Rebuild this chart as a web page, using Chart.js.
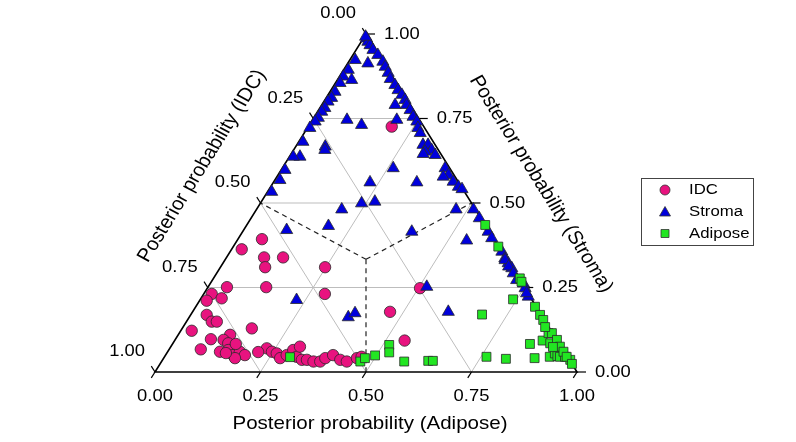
<!DOCTYPE html>
<html>
<head>
<meta charset="utf-8">
<script src="https://cdn.jsdelivr.net/npm/chart.js@4.4.1/dist/chart.umd.min.js"></script>
<style>
html,body{margin:0;padding:0;background:#fff;}
canvas{display:block;}
</style>
</head>
<body>
<canvas id="c" width="796" height="442"></canvas>
<script>
// Ternary data: each point is [Adipose, Stroma]; IDC = 1 - Adipose - Stroma
const categories = ['IDC', 'Stroma', 'Adipose'];
const tickValues = [0, 0.25, 0.5, 0.75, 1];
const tickLabels = ['0.00', '0.25', '0.50', '0.75', '1.00'];
const axisTitles = ['Posterior probability (IDC)', 'Posterior probability (Stroma)', 'Posterior probability (Adipose)'];

const idcPoints = [
  [0.198,0.726],
  [0.057,0.393],[0.024,0.363],[0.089,0.339],[0.134,0.339],[0.106,0.310],[0.248,0.310],
  [0.045,0.251],[0.138,0.251],[0.287,0.231],[0.019,0.231],[0.049,0.218],[0.017,0.211],
  [0.038,0.169],[0.060,0.149],[0.072,0.149],[0.026,0.122],[0.165,0.129],[0.084,0.097],
  [0.123,0.110],[0.115,0.095],[0.131,0.085],[0.075,0.067],[0.124,0.060],[0.141,0.065],
  [0.160,0.050],[0.171,0.060],[0.188,0.050],[0.169,0.041],[0.150,0.083],[0.140,0.056],
  [0.230,0.070],[0.215,0.059],[0.247,0.060],[0.261,0.055],[0.276,0.041],[0.287,0.050],
  [0.295,0.065],[0.313,0.045],[0.306,0.075],[0.330,0.036],[0.342,0.036],[0.360,0.031],
  [0.376,0.031],[0.383,0.041],[0.397,0.050],[0.421,0.036],[0.439,0.031],[0.458,0.041],
  [0.467,0.045],
  [0.468,0.178],[0.545,0.093],[0.504,0.248]
];

const stromaPoints = [
  [0.008,0.987],[0.016,0.977],[0.026,0.967],[0.003,0.992],
  [0.040,0.953],[0.059,0.938],[0.081,0.918],[0.094,0.903],[0.110,0.885],[0.124,0.867],
  [0.144,0.849],[0.159,0.834],[0.175,0.820],[0.190,0.805],[0.201,0.790],[0.217,0.775],
  [0.234,0.755],[0.250,0.741],[0.262,0.722],[0.275,0.707],[0.299,0.672],[0.311,0.672],
  [0.327,0.657],[0.314,0.652],[0.343,0.642],[0.313,0.645],[0.386,0.603],[0.404,0.583],
  [0.394,0.578],[0.425,0.563],[0.445,0.548],[0.457,0.541],[0.514,0.481],[0.541,0.455],
  [0.582,0.415],[0.600,0.396],[0.644,0.356],[0.661,0.336],[0.676,0.322],[0.692,0.307],
  [0.742,0.262],[0.664,0.331],[0.682,0.312],[0.703,0.292],[0.721,0.272],[0.753,0.248],
  [0.773,0.223],[0.764,0.233],
  [0.013,0.923],[0.011,0.894],[0.009,0.874],[0.011,0.855],[0.012,0.829],[0.013,0.811],
  [0.010,0.800],[0.012,0.781],[0.010,0.770],[0.011,0.752],[0.009,0.741],[0.006,0.722],
  [0.010,0.681],[0.025,0.637],[0.009,0.637],[0.009,0.598],[0.012,0.568],[0.010,0.533],
  [0.048,0.913],[0.034,0.864],[0.082,0.746],[0.124,0.731],[0.200,0.746],[0.174,0.790],
  [0.070,0.667],[0.074,0.657],[0.263,0.603],[0.229,0.561],[0.340,0.561],[0.240,0.499],
  [0.269,0.504],[0.202,0.481],[0.195,0.432],[0.102,0.420],[0.401,0.415],[0.473,0.481],
  [0.544,0.389],[0.229,0.213],[0.377,0.162],[0.387,0.174],[0.518,0.252],[0.606,0.178]
];

const adiposePoints = [
  [0.298,0.044],[0.471,0.031],[0.477,0.041],[0.497,0.049],[0.515,0.080],[0.526,0.058],
  [0.575,0.031],[0.631,0.033],[0.642,0.033],[0.690,0.170],[0.763,0.045],[0.812,0.039],
  [0.741,0.215],[0.847,0.083],[0.872,0.093],[0.894,0.085],[0.875,0.115],[0.879,0.041],
  [0.913,0.045],[0.920,0.055],[0.930,0.047],[0.937,0.045],[0.949,0.045],[0.966,0.036],
  [0.565,0.435],[0.628,0.371],[0.726,0.277],[0.735,0.267],[0.804,0.193],[0.828,0.169],
  [0.843,0.154],[0.883,0.115],[0.905,0.095],[0.922,0.075],[0.938,0.060],[0.953,0.045],
  [0.976,0.024],[0.858,0.133],[0.906,0.074]
];

const colors = { IDC: '#E8137F', Stroma: '#0000DC', Adipose: '#22E622' };
const K = 1.081; // horizontal stretch of the original figure
const FONT = "'Liberation Sans', Arial, Helvetica, sans-serif";

function toXY(p) { return { x: p[0] + p[1] / 2, y: p[1] }; }

function sText(ctx, txt, x, y, align, baseline, angle) {
  ctx.save();
  ctx.translate(x, y);
  ctx.scale(K, 1);
  if (angle) ctx.rotate(angle);
  ctx.textAlign = align;
  ctx.textBaseline = baseline;
  ctx.fillText(txt, 0, 0);
  ctx.restore();
}

const ternaryPlugin = {
  id: 'ternary',
  beforeDatasetsDraw(chart) {
    const ctx = chart.ctx;
    const xs = chart.scales.x, ys = chart.scales.y;
    const P = (a, s) => ({ x: xs.getPixelForValue(a + s / 2), y: ys.getPixelForValue(s) });
    ctx.save();
    ctx.strokeStyle = '#bdbdbd';
    ctx.lineWidth = 1;
    [0.25, 0.5, 0.75].forEach(v => {
      let p1, p2;
      p1 = P(0, v); p2 = P(1 - v, v);
      ctx.beginPath(); ctx.moveTo(p1.x, p1.y); ctx.lineTo(p2.x, p2.y); ctx.stroke();
      p1 = P(v, 0); p2 = P(v, 1 - v);
      ctx.beginPath(); ctx.moveTo(p1.x, p1.y); ctx.lineTo(p2.x, p2.y); ctx.stroke();
      p1 = P(1 - v, 0); p2 = P(0, 1 - v);
      ctx.beginPath(); ctx.moveTo(p1.x, p1.y); ctx.lineTo(p2.x, p2.y); ctx.stroke();
    });
    ctx.strokeStyle = '#222';
    ctx.lineWidth = 1.2;
    ctx.setLineDash([5, 4]);
    const c = P(1 / 3, 1 / 3);
    [P(0, 0.5), P(0.5, 0.5), P(0.5, 0)].forEach(q => {
      ctx.beginPath(); ctx.moveTo(c.x, c.y); ctx.lineTo(q.x, q.y); ctx.stroke();
    });
    ctx.setLineDash([]);
    const A = P(0, 0), B = P(1, 0), T = P(0, 1);
    ctx.strokeStyle = '#000';
    ctx.lineWidth = 1.6;
    ctx.beginPath(); ctx.moveTo(A.x, A.y); ctx.lineTo(B.x, B.y); ctx.lineTo(T.x, T.y); ctx.closePath(); ctx.stroke();
    ctx.lineWidth = 1.2;
    const L = Math.hypot(B.x - T.x, B.y - T.y);
    const ux = (T.x - B.x) / L, uy = (T.y - B.y) / L;
    const vx = (T.x - A.x) / L, vy = (T.y - A.y) / L;
    tickValues.forEach(v => {
      let p = P(v, 0);
      ctx.beginPath(); ctx.moveTo(p.x, p.y); ctx.lineTo(p.x - vx * 7, p.y - vy * 7); ctx.stroke();
      p = P(1 - v, v);
      ctx.beginPath(); ctx.moveTo(p.x, p.y); ctx.lineTo(p.x + 9, p.y); ctx.stroke();
      p = P(0, 1 - v);
      ctx.beginPath(); ctx.moveTo(p.x, p.y); ctx.lineTo(p.x + ux * 7, p.y + uy * 7); ctx.stroke();
    });
    ctx.restore();
  },
  afterDraw(chart) {
    const ctx = chart.ctx;
    const xs = chart.scales.x, ys = chart.scales.y;
    const P = (a, s) => ({ x: xs.getPixelForValue(a + s / 2), y: ys.getPixelForValue(s) });
    ctx.save();
    ctx.fillStyle = '#000';
    ctx.font = '17px ' + FONT;
    tickValues.forEach((v, i) => {
      let p = P(v, 0);
      sText(ctx, tickLabels[i], p.x, p.y + 24, 'center', 'middle');
      p = P(1 - v, v);
      sText(ctx, tickLabels[i], p.x + 18, p.y, 'left', 'middle');
      p = P(0, 1 - v);
      sText(ctx, tickLabels[i], p.x - 10, p.y - 20.5, 'right', 'middle');
    });
    ctx.font = '19px ' + FONT;
    sText(ctx, axisTitles[2], 370, 429, 'center', 'alphabetic');
    sText(ctx, axisTitles[0], 202, 166, 'center', 'middle', -Math.PI / 3);
    sText(ctx, axisTitles[1], 541, 184, 'center', 'middle', Math.PI / 3);

    ctx.strokeStyle = '#444';
    ctx.lineWidth = 1;
    ctx.strokeRect(641.5, 178.5, 112, 67);
    const rows = [190, 212, 233.5];
    ctx.font = '15.5px ' + FONT;
    categories.forEach((name, i) => {
      const y = rows[i], x = 665;
      ctx.fillStyle = colors[name];
      ctx.strokeStyle = '#333';
      ctx.lineWidth = 0.8;
      ctx.beginPath();
      if (name === 'IDC') {
        ctx.arc(x, y, 5, 0, Math.PI * 2);
      } else if (name === 'Stroma') {
        ctx.moveTo(x, y - 5.5); ctx.lineTo(x + 5.5, y + 4); ctx.lineTo(x - 5.5, y + 4); ctx.closePath();
      } else {
        ctx.rect(x - 4, y - 4, 8, 8);
      }
      ctx.fill(); ctx.stroke();
      ctx.fillStyle = '#000';
      sText(ctx, name, 689, y, 'left', 'middle');
    });
    ctx.restore();
  }
};

const mk = (label, pts, style, radius, order) => ({
  label,
  data: pts.map(toXY),
  pointStyle: style,
  pointRadius: radius,
  pointHoverRadius: radius,
  backgroundColor: colors[label],
  borderColor: '#2a2a2a',
  borderWidth: 0.8,
  clip: false,
  order
});

new Chart(document.getElementById('c'), {
  type: 'scatter',
  data: {
    datasets: [
      mk('IDC', idcPoints, 'circle', 5.7, 3),
      mk('Stroma', stromaPoints, 'triangle', 7, 2),
      mk('Adipose', adiposePoints, 'rect', 6.3, 1)
    ]
  },
  options: {
    responsive: false,
    animation: false,
    devicePixelRatio: 1,
    layout: { padding: { left: 155, right: 219, top: 34, bottom: 70 } },
    scales: {
      x: { type: 'linear', min: 0, max: 1, display: false },
      y: { type: 'linear', min: 0, max: 1, display: false }
    },
    plugins: { legend: { display: false }, tooltip: { enabled: false } },
    events: []
  },
  plugins: [ternaryPlugin]
});
</script>
</body>
</html>
